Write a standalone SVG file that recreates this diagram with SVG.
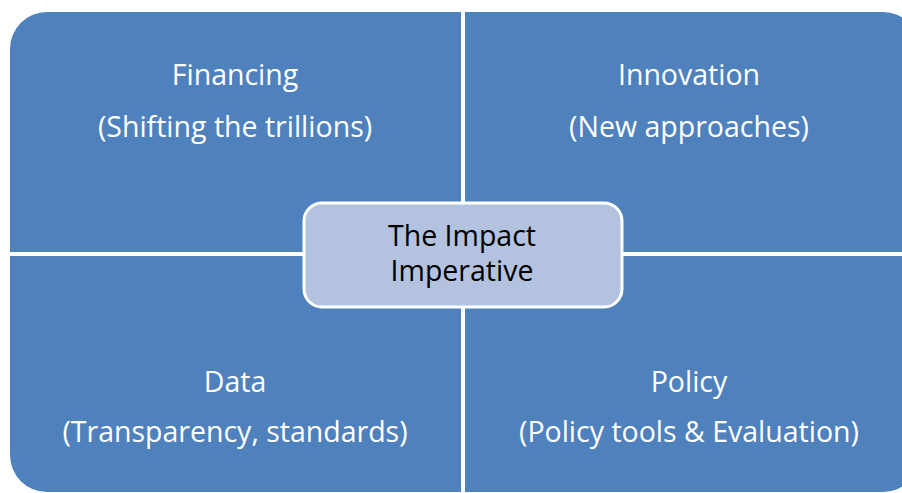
<svg xmlns="http://www.w3.org/2000/svg" width="902" height="493" viewBox="0 0 902 493">
<style>
.q{fill:#4F81BD}
.t{font-family:"Open Sans","Liberation Sans",sans-serif;font-size:28.5px;fill:#FFFFFF;text-anchor:middle}
.c{font-family:"Open Sans","Liberation Sans",sans-serif;font-size:28.5px;fill:#000000;text-anchor:middle}
.sep{stroke:#FFFFFF;stroke-width:4}
</style>
<rect width="902" height="493" fill="#FFFFFF"/>
<g id="background">
<rect class="q" x="10" y="12" width="910" height="480" rx="37" ry="37"/>
</g>
<g id="connectors">
<line class="sep" x1="463" y1="0" x2="463" y2="493"/>
<line class="sep" x1="0" y1="254" x2="902" y2="254"/>
</g>
<g id="financing">
<text class="t" x="235" y="85">Financing</text>
<text class="t" x="235" y="137">(Shifting the trillions)</text>
</g>
<g id="innovation">
<text class="t" x="689" y="85">Innovation</text>
<text class="t" x="689" y="137">(New approaches)</text>
</g>
<g id="data">
<text class="t" x="235" y="392">Data</text>
<text class="t" x="235" y="442">(Transparency, standards)</text>
</g>
<g id="policy">
<text class="t" x="689" y="392">Policy</text>
<text class="t" x="689" y="442">(Policy tools &amp; Evaluation)</text>
</g>
<g id="impact">
<rect x="304" y="203" width="318" height="104" rx="18" ry="18" fill="#B3C2DE" stroke="#FFFFFF" stroke-width="3"/>
<text class="c" x="462" y="246">The Impact</text>
<text class="c" x="462" y="281">Imperative</text>
</g>
</svg>
